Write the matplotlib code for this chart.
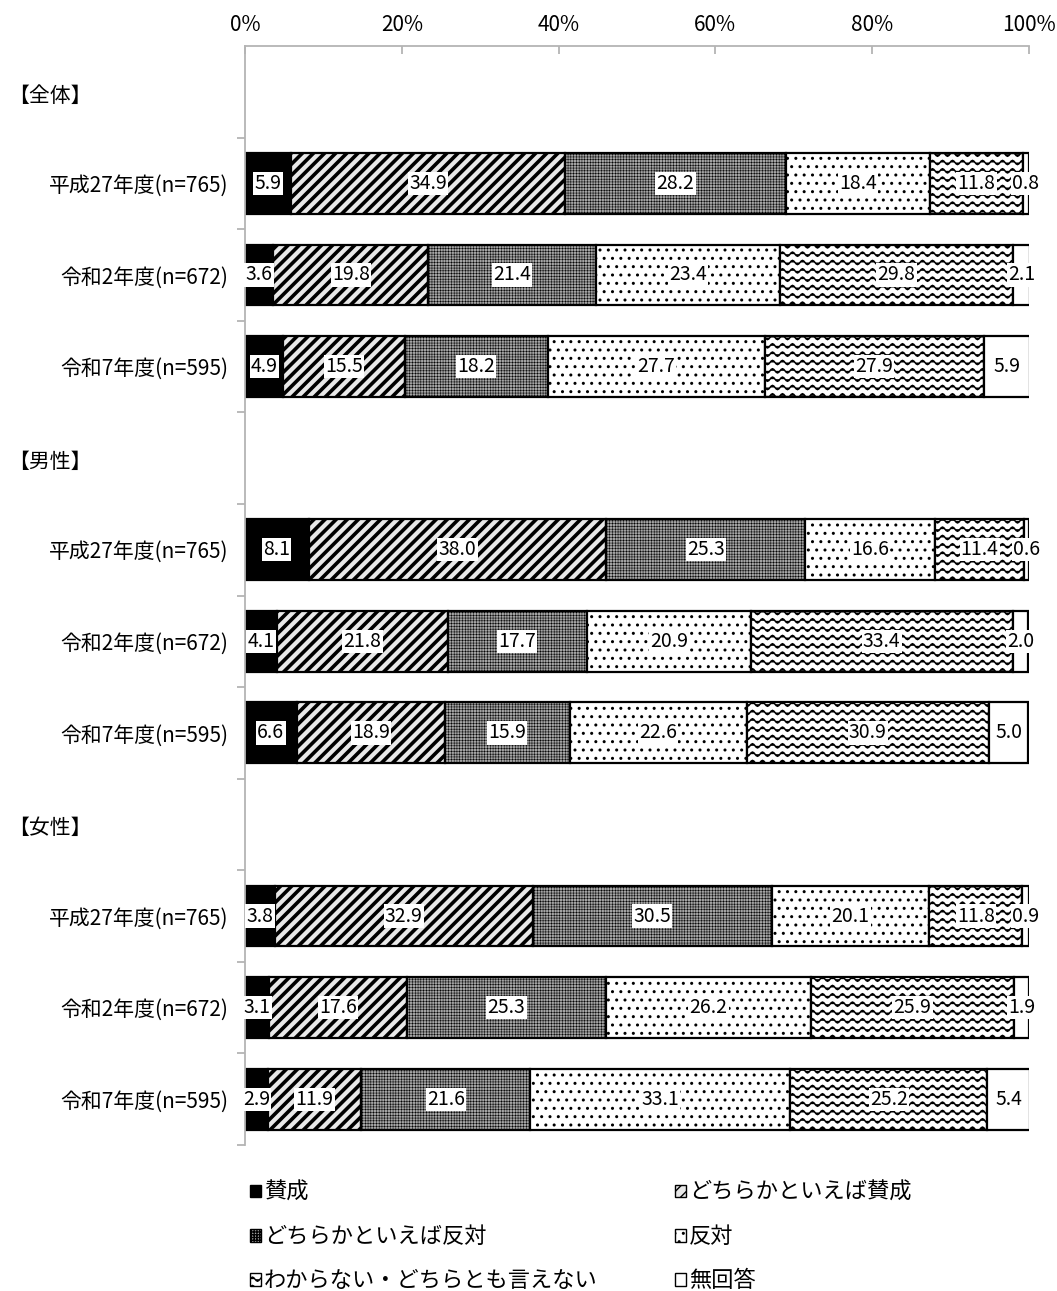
import warnings
warnings.filterwarnings("ignore")
import numpy as np
import matplotlib
matplotlib.use("Agg")
import matplotlib.pyplot as plt
import matplotlib.hatch as mhatch
from matplotlib.path import Path
from matplotlib.patches import Patch
from matplotlib.transforms import blended_transform_factory

plt.rcParams['font.family'] = ['Noto Sans CJK JP', 'DejaVu Sans']

# ---------------- data ----------------
categories = ["賛成", "どちらかといえば賛成", "どちらかといえば反対", "反対",
              "わからない・どちらとも言えない", "無回答"]
groups = ["【全体】", "【男性】", "【女性】"]
years = ["平成27年度(n=765)", "令和2年度(n=672)", "令和7年度(n=595)"]

all_h27 = [5.9, 34.9, 28.2, 18.4, 11.8, 0.8]
all_r2 = [3.6, 19.8, 21.4, 23.4, 29.8, 2.1]
all_r7 = [4.9, 15.5, 18.2, 27.7, 27.9, 5.9]
male_h27 = [8.1, 38.0, 25.3, 16.6, 11.4, 0.6]
male_r2 = [4.1, 21.8, 17.7, 20.9, 33.4, 2.0]
male_r7 = [6.6, 18.9, 15.9, 22.6, 30.9, 5.0]
female_h27 = [3.8, 32.9, 30.5, 20.1, 11.8, 0.9]
female_r2 = [3.1, 17.6, 25.3, 26.2, 25.9, 1.9]
female_r7 = [2.9, 11.9, 21.6, 33.1, 25.2, 5.4]

xticks = [0, 20, 40, 60, 80, 100]
xticklabels = ["0%", "20%", "40%", "60%", "80%", "100%"]


# ---------------- custom wave hatch ----------------
class WaveHatch(mhatch.HatchPatternBase):
    def __init__(self, hatch, density):
        self.num_lines = int(hatch.count('~') * density)
        self.periods = 10
        self.seg = 8
        self.per_line = self.periods * self.seg + 1
        self.num_vertices = self.num_lines * self.per_line

    def set_vertices_and_codes(self, vertices, codes):
        if self.num_lines == 0:
            return
        step = 1.0 / self.num_lines
        amp = 0.021
        xs = np.linspace(0.0, 1.0, self.per_line)
        for i in range(self.num_lines):
            y0 = step * (i + 0.5)
            ys = y0 + amp * np.sin(2 * np.pi * self.periods * xs)
            sl = slice(i * self.per_line, (i + 1) * self.per_line)
            vertices[sl, 0] = xs
            vertices[sl, 1] = ys
            codes[sl] = Path.LINETO
            codes[i * self.per_line] = Path.MOVETO


if WaveHatch not in mhatch._hatch_types:
    mhatch._hatch_types.append(WaveHatch)

styles = [
    dict(facecolor="black", hatch=None, hlw=1.0),
    dict(facecolor="#e8e8e8", hatch="///", hlw=2.6),
    dict(facecolor="#a4a4a4", hatch="++++++", hlw=0.35),
    dict(facecolor="white", hatch="..", hlw=1.0),
    dict(facecolor="white", hatch="~~", hlw=1.1),
    dict(facecolor="white", hatch=None, hlw=1.0),
]

rows = [
    ("header", groups[0]),
    ("bar", years[0], all_h27),
    ("bar", years[1], all_r2),
    ("bar", years[2], all_r7),
    ("header", groups[1]),
    ("bar", years[0], male_h27),
    ("bar", years[1], male_r2),
    ("bar", years[2], male_r7),
    ("header", groups[2]),
    ("bar", years[0], female_h27),
    ("bar", years[1], female_r2),
    ("bar", years[2], female_r7),
]

fig = plt.figure(figsize=(10.57, 12.91), dpi=100)
ax = fig.add_axes([245 / 1057, 1 - 1145 / 1291, 784 / 1057, 1099 / 1291])

bar_pos = []
bar_labels = []
series = [[] for _ in categories]
header_rows = []
for i, r in enumerate(rows):
    if r[0] == "header":
        header_rows.append((i, r[1]))
    else:
        bar_pos.append(i)
        bar_labels.append(r[1])
        for k, v in enumerate(r[2]):
            series[k].append(v)

bar_pos = np.array(bar_pos)
left = np.zeros(len(bar_pos))
for k, cat in enumerate(categories):
    st = styles[k]
    vals = np.array(series[k])
    bars = ax.barh(bar_pos, vals, left=left, height=0.665,
                   color=st["facecolor"], edgecolor="black", linewidth=1.6,
                   hatch=st["hatch"], label=cat, zorder=2)
    for b in bars:
        if hasattr(b, "set_hatch_linewidth"):
            b.set_hatch_linewidth(st["hlw"])
    for y, l, v in zip(bar_pos, left, vals):
        ax.text(l + v / 2, y, f"{v:.1f}", ha="center", va="center",
                fontsize=14, color="black", zorder=5,
                bbox=dict(boxstyle="square,pad=0.06", facecolor="white",
                          edgecolor="none"))
    left = left + vals

ax.set_xlim(0, 100)
ax.set_ylim(len(rows) - 0.5, -0.5)

# axes styling
for s in ["right", "bottom"]:
    ax.spines[s].set_visible(False)
for s in ["left", "top"]:
    ax.spines[s].set_color("#b4b4b4")
    ax.spines[s].set_linewidth(1.3)

ax.xaxis.tick_top()
ax.set_xticks(xticks)
ax.set_xticklabels(xticklabels, fontsize=15)
ax.tick_params(axis="x", direction="in", length=6, color="#b4b4b4",
               width=1.3, pad=7)

ax.set_yticks(np.arange(0.5, len(rows), 1.0))
ax.set_yticklabels([])
ax.tick_params(axis="y", which="major", direction="out", length=6,
               color="#b4b4b4", width=1.3)
ax.set_yticks(bar_pos, minor=True)
ax.set_yticklabels(bar_labels, minor=True, fontsize=15)
ax.tick_params(axis="y", which="minor", length=0, pad=12)

trans = blended_transform_factory(fig.transFigure, ax.transData)
for i, name in header_rows:
    ax.text(8 / 1057, i + 0.04, name, transform=trans, ha="left", va="center",
            fontsize=15)

# legend
handles = []
for k, cat in enumerate(categories):
    st = styles[k]
    p = Patch(facecolor=st["facecolor"], edgecolor="black", linewidth=1.0,
              hatch=st["hatch"], label=cat)
    if hasattr(p, "set_hatch_linewidth"):
        p.set_hatch_linewidth(min(st["hlw"], 1.2))
    handles.append(p)
order = [0, 2, 4, 1, 3, 5]
leg = fig.legend([handles[i] for i in order], [categories[i] for i in order],
                 loc="upper left", bbox_to_anchor=(250 / 1057, 1 - 1181 / 1291),
                 ncol=2, frameon=False, fontsize=16, handlelength=0.5,
                 handleheight=0.5, handletextpad=0.12, columnspacing=3.5,
                 labelspacing=0.95, borderpad=0, borderaxespad=0)

fig.savefig("out.png", dpi=100)
